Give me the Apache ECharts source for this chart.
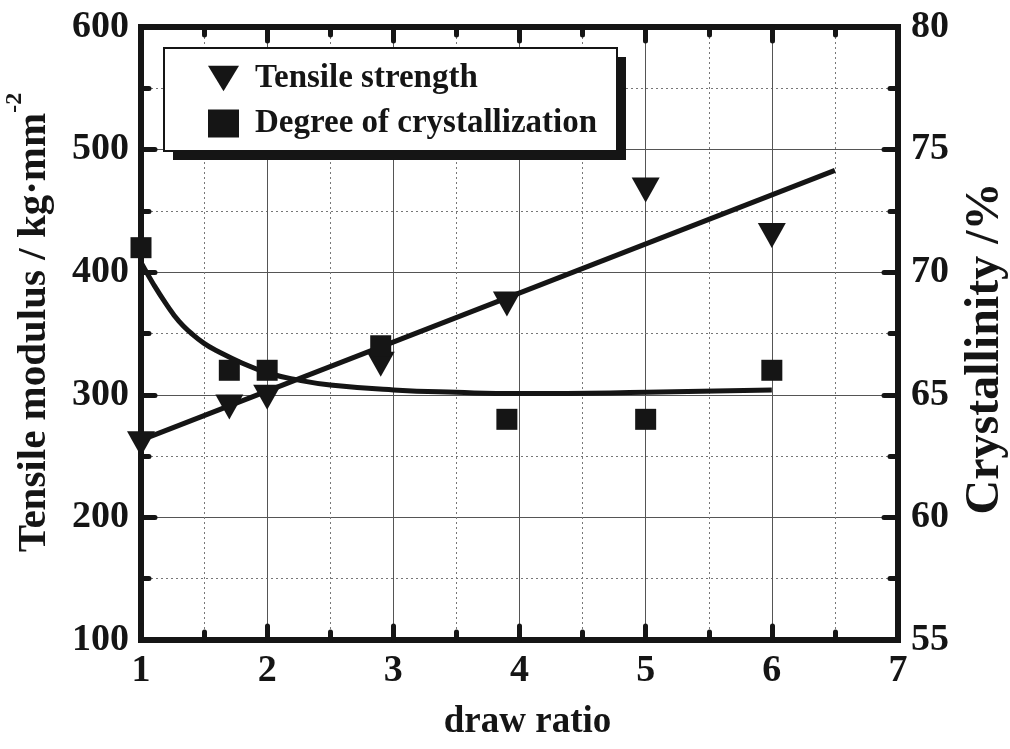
<!DOCTYPE html>
<html>
<head>
<meta charset="utf-8">
<script src="https://cdn.jsdelivr.net/npm/echarts@6/dist/echarts.min.js"></script>
<style>
html,body{margin:0;padding:0;background:#fff;}
#chart{width:1010px;height:749px;}
</style>
</head>
<body>
<div id="chart"></div>
<script>
// ---- data ----
var drawRatio = [1, 1.7, 2, 2.9, 3.9, 5, 6];
var tensileStrength = [260, 290, 298, 325, 374, 467, 430];
var crystallinity = [71, 66, 66, 67, 64, 64, 66];
var tensileFitX = [1, 6.5];
var tensileFitY = [263, 483];
var crystFitX = [1, 1.1, 1.2, 1.3, 1.4, 1.5, 1.6, 1.8, 2, 2.25, 2.5, 3, 3.5, 4, 5, 6];
var crystFitY = [70.4, 69.5, 68.7, 68.0, 67.5, 67.1, 66.8, 66.3, 65.9, 65.6, 65.4, 65.2, 65.1, 65.05, 65.1, 65.2];
var xTicks = [1, 2, 3, 4, 5, 6, 7];
var leftTicks = [100, 200, 300, 400, 500, 600];
var rightTicks = [55, 60, 65, 70, 75, 80];

function zip(a, b) { return a.map(function (v, i) { return [v, b[i]]; }); }

var FONT = 'Liberation Serif';
var INK = '#151515';

var axisLineStyle = { color: INK, width: 6, cap: 'square' };
var tickStyle = { color: INK, width: 5, cap: 'round' };

function xAxisCfg(pos, showLabel) {
  return {
    type: 'value', position: pos, min: 1, max: 7, interval: 1,
    axisLine: { show: true, onZero: false, lineStyle: axisLineStyle },
    axisTick: { show: true, inside: true, length: 14, lineStyle: tickStyle },
    minorTick: { show: true, splitNumber: 2, length: 8, lineStyle: tickStyle },
    axisLabel: { show: showLabel, fontFamily: FONT, fontWeight: 'bold', fontSize: 38, color: INK, margin: 12,
      formatter: function (v) { return xTicks.indexOf(v) >= 0 ? String(v) : ''; } },
    splitLine: { show: showLabel, lineStyle: { color: '#555', width: 1 } },
    minorSplitLine: { show: showLabel, lineStyle: { color: '#777', width: 1, type: [2, 3] } },
    name: showLabel ? 'draw ratio' : '',
    nameLocation: 'middle', nameGap: 64,
    nameTextStyle: { fontFamily: FONT, fontWeight: 'bold', fontSize: 37, color: INK, padding: [0, 0, 0, 16] }
  };
}

var option = {
  backgroundColor: '#fff',
  animation: false,
  grid: { left: 141, right: 112, top: 27, bottom: 109, containLabel: false, outerBoundsMode: 'none' },
  graphic: [
    { type: 'rect', z: 3, silent: true, shape: { x: 173, y: 57, width: 453, height: 103 }, style: { fill: INK } },
    { type: 'rect', z: 3, silent: true, shape: { x: 164, y: 48, width: 453, height: 103 }, style: { fill: '#fff', stroke: INK, lineWidth: 2 } }
  ],
  legend: {
    orient: 'vertical', left: 164, top: 48, z: 6,
    data: [
      { name: 'Tensile strength', icon: 'path://M0,0 L34,0 L17,28 Z' },
      { name: 'Degree of crystallization', icon: 'rect' }
    ],
    itemWidth: 31, itemHeight: 28, itemGap: 12,
    padding: [14, 20, 13, 44],
    textStyle: { fontFamily: FONT, fontWeight: 'bold', fontSize: 33, color: INK, padding: [0, 0, 0, 11] },
    selectedMode: false
  },
  xAxis: [xAxisCfg('bottom', true), xAxisCfg('top', false)],
  yAxis: [
    {
      type: 'value', position: 'left', min: 100, max: 600, interval: 100,
      axisLine: { show: true, onZero: false, lineStyle: axisLineStyle },
      axisTick: { show: true, inside: true, length: 14, lineStyle: tickStyle },
      minorTick: { show: true, splitNumber: 2, length: 8, lineStyle: tickStyle },
      axisLabel: { fontFamily: FONT, fontWeight: 'bold', fontSize: 38, color: INK, margin: 12,
        formatter: function (v) { return leftTicks.indexOf(v) >= 0 ? String(v) : ''; } },
      splitLine: { show: true, lineStyle: { color: '#555', width: 1 } },
      minorSplitLine: { show: true, lineStyle: { color: '#777', width: 1, type: [2, 3] } },
      name: '{m|Tensile modulus / kg·mm}{s|-2}',
      nameLocation: 'middle', nameRotate: 90, nameGap: 86,
      nameTextStyle: {
        padding: [0, 0, 0, 22],
        rich: {
          m: { fontFamily: FONT, fontWeight: 'bold', fontSize: 41, color: INK, lineHeight: 52, verticalAlign: 'bottom' },
          s: { fontFamily: FONT, fontWeight: 'bold', fontSize: 24, color: INK, lineHeight: 52, verticalAlign: 'top' }
        }
      }
    },
    {
      type: 'value', position: 'right', min: 55, max: 80, interval: 5,
      axisLine: { show: true, onZero: false, lineStyle: axisLineStyle },
      axisTick: { show: true, inside: true, length: 14, lineStyle: tickStyle },
      minorTick: { show: true, splitNumber: 2, length: 8, lineStyle: tickStyle },
      axisLabel: { fontFamily: FONT, fontWeight: 'bold', fontSize: 38, color: INK, margin: 13,
        formatter: function (v) { return rightTicks.indexOf(v) >= 0 ? String(v) : ''; } },
      splitLine: { show: false },
      name: 'Crystallinity /%',
      nameLocation: 'middle', nameRotate: 90, nameGap: 64,
      nameTextStyle: { fontFamily: FONT, fontWeight: 'bold', fontSize: 48, color: INK, padding: [0, 30, 0, 0] }
    }
  ],
  series: [
    {
      name: 'Tensile fit', type: 'line', xAxisIndex: 0, yAxisIndex: 0,
      data: zip(tensileFitX, tensileFitY), showSymbol: false, silent: true,
      lineStyle: { color: INK, width: 5 }, z: 2
    },
    {
      name: 'Crystallinity fit', type: 'line', xAxisIndex: 0, yAxisIndex: 1,
      data: zip(crystFitX, crystFitY), smooth: 0.5, showSymbol: false, silent: true,
      lineStyle: { color: INK, width: 5 }, z: 2
    },
    {
      name: 'Tensile strength', type: 'scatter', xAxisIndex: 0, yAxisIndex: 0,
      data: zip(drawRatio, tensileStrength),
      symbol: 'path://M0,0 L28,0 L14,25 Z', symbolSize: [28, 25],
      itemStyle: { color: INK, opacity: 1 }, z: 3
    },
    {
      name: 'Degree of crystallization', type: 'scatter', xAxisIndex: 0, yAxisIndex: 1,
      data: zip(drawRatio, crystallinity),
      symbol: 'rect', symbolSize: [21, 21],
      itemStyle: { color: INK, opacity: 1 }, z: 3
    }
  ]
};

var chart = echarts.init(document.getElementById('chart'), null, { renderer: 'canvas' });
chart.setOption(option);
</script>
</body>
</html>
